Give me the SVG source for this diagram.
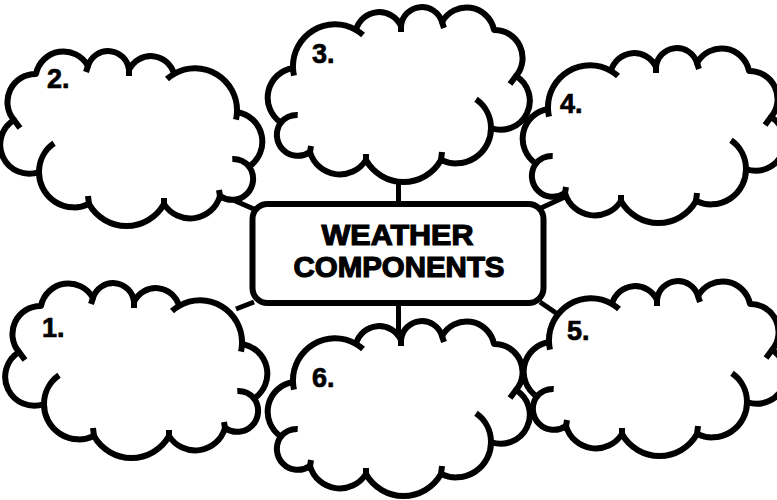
<svg xmlns="http://www.w3.org/2000/svg" xmlns:xlink="http://www.w3.org/1999/xlink" width="777" height="500" viewBox="0 0 777 500">
<style>
.ol{fill:#fff;stroke:#000;stroke-width:6;stroke-linejoin:round}
.tk{fill:none;stroke:#000;stroke-width:6;stroke-linecap:butt}
.cn{stroke:#000;stroke-width:5;fill:none}
.lbl{font-family:"Liberation Sans",Arial,sans-serif;font-weight:bold;font-size:27px;fill:#000;stroke:#000;stroke-width:0.7}
.ttl{font-family:"Liberation Sans",Arial,sans-serif;font-weight:bold;font-size:29px;fill:#000;stroke:#000;stroke-width:1.2;text-anchor:middle}
</style>
<defs>
<g id="cloud">
<path class="ol" d="M25 60 A42 42 0 0 1 88 22 A24 24 0 0 1 133 18 A21 21 0 0 1 174 14 A28 28 0 0 1 226 22 A28 28 0 0 1 248 68 A29 29 0 0 1 223 120 A35 35 0 0 1 173 152 A43 43 0 0 1 98 152 A31 31 0 0 1 42 144 A21 21 0 0 1 12.9 114.5 A30 30 0 0 1 25 60 Z"/>
<path class="tk" d="M25 60 A42 42 0 0 0 26 67.7 M88 22 A42 42 0 0 1 95 27.1 M133 18 L133 24 M174 14 L176 20 M248 68 L242 76 M208 91.3 A35 35 0 0 1 223 120 M173 152 L174 144 M98 152 L98 146 M42 144 L43 138 M12.9 114.5 A21 21 0 0 1 29.7 107"/>
</g>
</defs>
<rect width="777" height="500" fill="#fff"/>
<g id="connectors">
<line class="cn" x1="398.5" y1="178" x2="398.5" y2="206"/>
<line class="cn" x1="398.5" y1="302" x2="398.5" y2="340"/>
<line class="cn" x1="256" y1="210" x2="224" y2="196"/>
<line class="cn" x1="254" y1="302" x2="236" y2="309"/>
<line class="cn" x1="541" y1="208" x2="567" y2="196"/>
<line class="cn" x1="540" y1="302" x2="556" y2="313"/>
</g>
<g id="cloud2"><use xlink:href="#cloud" href="#cloud" transform="translate(262,52) scale(-1,1)"/><text class="lbl" x="47" y="88">2.</text></g>
<g id="cloud1"><use xlink:href="#cloud" href="#cloud" transform="translate(267,284) scale(-1,1)"/><text class="lbl" x="42" y="337">1.</text></g>
<g id="cloud3"><use xlink:href="#cloud" href="#cloud" transform="translate(268,8)"/><text class="lbl" x="312" y="63">3.</text></g>
<g id="cloud4"><use xlink:href="#cloud" href="#cloud" transform="translate(523,49)"/><text class="lbl" x="560" y="113">4.</text></g>
<g id="cloud5"><use xlink:href="#cloud" href="#cloud" transform="translate(524,282)"/><text class="lbl" x="567" y="340">5.</text></g>
<g id="cloud6"><use xlink:href="#cloud" href="#cloud" transform="translate(268,322)"/><text class="lbl" x="312" y="387">6.</text></g>
<g id="center">
<rect x="252.5" y="204" width="291" height="99" rx="15" fill="#fff" stroke="#000" stroke-width="6"/>
<text class="ttl" x="397.5" y="245" textLength="152" lengthAdjust="spacingAndGlyphs">WEATHER</text>
<text class="ttl" x="399" y="277" textLength="211" lengthAdjust="spacingAndGlyphs">COMPONENTS</text>
</g>
</svg>
